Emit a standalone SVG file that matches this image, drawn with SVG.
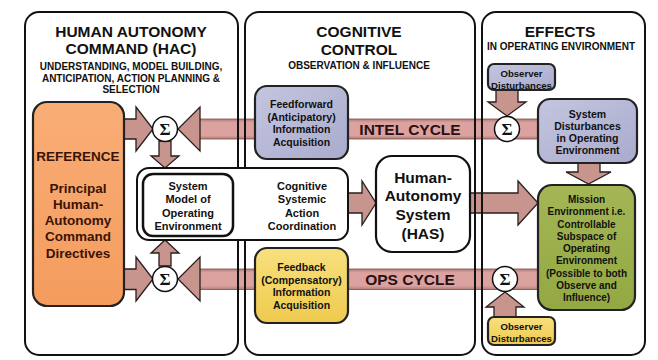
<svg xmlns="http://www.w3.org/2000/svg" width="658" height="360" viewBox="0 0 658 360">
<defs>
<linearGradient id="gOrange" x1="0" y1="0" x2="0" y2="1"><stop offset="0" stop-color="#F9AD76"/><stop offset="1" stop-color="#F49C5E"/></linearGradient>
<linearGradient id="gLav" x1="0" y1="0" x2="1" y2="1"><stop offset="0" stop-color="#C4C5DF"/><stop offset="1" stop-color="#A9ABCD"/></linearGradient>
<linearGradient id="gYel" x1="0" y1="0" x2="0" y2="1"><stop offset="0" stop-color="#F8E07E"/><stop offset="1" stop-color="#EFCA4E"/></linearGradient>
<linearGradient id="gGreen" x1="0" y1="0" x2="0" y2="1"><stop offset="0" stop-color="#A4B655"/><stop offset="1" stop-color="#93A843"/></linearGradient>
<linearGradient id="gBar" x1="0" y1="0" x2="0" y2="1"><stop offset="0" stop-color="#B27C76"/><stop offset="0.18" stop-color="#DBA2A0"/><stop offset="0.82" stop-color="#DBA2A0"/><stop offset="1" stop-color="#B27C76"/></linearGradient>
</defs>
<style>
.panel{fill:none;stroke:#111;stroke-width:2}
.arr{fill:#C8958E;stroke:#2a1e1e;stroke-width:1.3;stroke-linejoin:miter}
.bar{fill:url(#gBar);stroke:#7a4f4b;stroke-width:0.8}
.t{font-family:"Liberation Sans",Arial,sans-serif;font-weight:bold;text-anchor:middle;fill:#111}
.h{font-size:15.5px}
.s{font-size:10px}
.o{font-size:9.6px}
.n{font-size:10.5px}
.m{font-size:11px}
.ref{font-size:13.5px;fill:#3a1405}
.has{font-size:15.5px}
.cyc{font-size:15.5px;fill:#2a1010}
.sig{fill:#fff;stroke:#111;stroke-width:1.5}
.sigt{font-family:"Liberation Serif","Times New Roman",serif;font-weight:bold;font-size:17px;text-anchor:middle;fill:#111}
.box{stroke:#222;stroke-width:2.2}
</style>
<rect x="0" y="0" width="658" height="360" fill="#fff"/>

<g id="connectors">
  <rect class="bar" x="199" y="119" width="340" height="20"/>
  <rect class="bar" x="199" y="269" width="340" height="20.5"/>
  <polygon class="arr" points="124,119 136,119 136,107 153,129 136,151 136,139 124,139"/>
  <polygon class="arr" points="200,119 200,107 178,129 200,151 200,139"/>
  <polygon class="arr" points="159,141 171,141 171,156 179,156 165,168 151,156 159,156"/>
  <polygon class="arr" points="124,269 136,269 136,257 153,279 136,301 136,289.5 124,289.5"/>
  <polygon class="arr" points="200,269 200,257 178,279 200,301 200,289.5"/>
  <polygon class="arr" points="159,266 171,266 171,253 179,253 165,240 151,253 159,253"/>
  <polygon class="arr" points="348,193 362,193 362,181 376,203 362,225 362,213 348,213"/>
  <polygon class="arr" points="470,193 518,193 518,181 538,203 518,225 518,213 470,213"/>
  <polygon class="arr" points="496,90 518,90 518,102 526,102 507,116 488,102 496,102"/>
  <polygon class="arr" points="494,317 516,317 516,307 524,307 505,292 486,307 494,307"/>
  <polygon class="arr" points="578,163 600,163 600,172 611,172 588.5,184 566,172 578,172"/>
  <circle class="sig" cx="165" cy="129" r="12.5"/>
  <circle class="sig" cx="165" cy="279" r="12.5"/>
  <circle class="sig" cx="507" cy="129" r="12.5"/>
  <circle class="sig" cx="505" cy="279" r="12.5"/>
  <text class="sigt" x="165" y="135">Σ</text>
  <text class="sigt" x="165" y="285">Σ</text>
  <text class="sigt" x="507" y="135">Σ</text>
  <text class="sigt" x="505" y="285">Σ</text>
  <text class="t cyc" x="410" y="135">INTEL CYCLE</text>
  <text class="t cyc" x="410" y="285">OPS CYCLE</text>
</g>

<g id="panel-hac">
  <rect class="panel" x="25" y="12" width="213" height="343" rx="14"/>
  <text class="t h" x="131" y="37">HUMAN AUTONOMY</text>
  <text class="t h" x="131" y="54">COMMAND (HAC)</text>
  <text class="t s" x="131" y="70">UNDERSTANDING, MODEL BUILDING,</text>
  <text class="t s" x="131" y="82">ANTICIPATION, ACTION PLANNING &amp;</text>
  <text class="t s" x="131" y="93">SELECTION</text>
</g>
<g id="panel-cc">
  <rect class="panel" x="245" y="12" width="230" height="343" rx="14"/>
  <text class="t h" x="359" y="37">COGNITIVE</text>
  <text class="t h" x="359" y="55">CONTROL</text>
  <text class="t s" x="359" y="69">OBSERVATION &amp; INFLUENCE</text>
</g>
<g id="panel-effects">
  <rect class="panel" x="482" y="12" width="163" height="343" rx="14"/>
  <text class="t h" x="560" y="37">EFFECTS</text>
  <text class="t s" x="561" y="50">IN OPERATING ENVIRONMENT</text>
</g>

<g id="reference">
  <rect class="box" x="33" y="102" width="91" height="204" rx="14" fill="url(#gOrange)"/>
  <text class="t ref" x="78" y="161">REFERENCE</text>
  <text class="t ref" x="78" y="192.5">Principal</text>
  <text class="t ref" x="78" y="208.75">Human-</text>
  <text class="t ref" x="78" y="225">Autonomy</text>
  <text class="t ref" x="78" y="241.25">Command</text>
  <text class="t ref" x="78" y="257.5">Directives</text>
</g>

<g id="coordination">
  <rect x="137" y="168" width="211" height="72" rx="12" fill="#fff" stroke="#111" stroke-width="2"/>
  <text class="t m" x="302" y="190">Cognitive</text>
  <text class="t m" x="302" y="203.3">Systemic</text>
  <text class="t m" x="302" y="216.6">Action</text>
  <text class="t m" x="302" y="230">Coordination</text>
</g>
<g id="system-model">
  <rect x="143" y="174" width="90" height="62" rx="10" fill="#fff" stroke="#111" stroke-width="2.5"/>
  <text class="t m" x="188" y="190">System</text>
  <text class="t m" x="188" y="203.3">Model of</text>
  <text class="t m" x="188" y="216.6">Operating</text>
  <text class="t m" x="188" y="230">Environment</text>
</g>

<g id="feedforward">
  <rect class="box" x="255" y="86" width="93" height="73" rx="12" fill="url(#gLav)"/>
  <text class="t n" x="301.5" y="108">Feedforward</text>
  <text class="t n" x="301.5" y="120.5">(Anticipatory)</text>
  <text class="t n" x="301.5" y="133">Information</text>
  <text class="t n" x="301.5" y="145.5">Acquisition</text>
</g>
<g id="feedback">
  <rect class="box" x="255" y="248" width="93" height="75" rx="12" fill="url(#gYel)"/>
  <text class="t n" x="301.5" y="271">Feedback</text>
  <text class="t n" x="301.5" y="283.5">(Compensatory)</text>
  <text class="t n" x="301.5" y="296">Information</text>
  <text class="t n" x="301.5" y="308.5">Acquisition</text>
</g>

<g id="has">
  <rect x="376" y="156" width="94" height="96" rx="16" fill="#fff" stroke="#111" stroke-width="2.2"/>
  <text class="t has" x="423" y="182.5">Human-</text>
  <text class="t has" x="423" y="201.2">Autonomy</text>
  <text class="t has" x="423" y="219.9">System</text>
  <text class="t has" x="423" y="238.6">(HAS)</text>
</g>

<g id="observer-top">
  <rect class="box" x="488" y="64" width="67" height="26" rx="6" fill="url(#gLav)" stroke-width="1.6"/>
  <text class="t o" x="521.5" y="77">Observer</text>
  <text class="t o" x="521.5" y="88.5">Disturbances</text>
</g>
<g id="system-disturbances">
  <rect class="box" x="538" y="99" width="99" height="64" rx="12" fill="url(#gLav)"/>
  <text class="t n" x="587.5" y="118">System</text>
  <text class="t n" x="587.5" y="130">Disturbances</text>
  <text class="t n" x="587.5" y="142">in Operating</text>
  <text class="t n" x="587.5" y="154">Environment</text>
</g>
<g id="mission">
  <rect class="box" x="538" y="185" width="97" height="125" rx="14" fill="url(#gGreen)"/>
  <text class="t s" x="586.5" y="203">Mission</text>
  <text class="t s" x="586.5" y="215.25">Environment i.e.</text>
  <text class="t s" x="586.5" y="227.5">Controllable</text>
  <text class="t s" x="586.5" y="239.75">Subspace of</text>
  <text class="t s" x="586.5" y="252">Operating</text>
  <text class="t s" x="586.5" y="264.25">Environment</text>
  <text class="t s" x="586.5" y="276.5">(Possible to both</text>
  <text class="t s" x="586.5" y="288.75">Observe and</text>
  <text class="t s" x="586.5" y="301">Influence)</text>
</g>
<g id="observer-bottom">
  <rect class="box" x="488" y="317" width="67" height="28" rx="6" fill="url(#gYel)" stroke-width="1.6"/>
  <text class="t o" x="521.5" y="329.5">Observer</text>
  <text class="t o" x="521.5" y="341.5">Disturbances</text>
</g>
</svg>
